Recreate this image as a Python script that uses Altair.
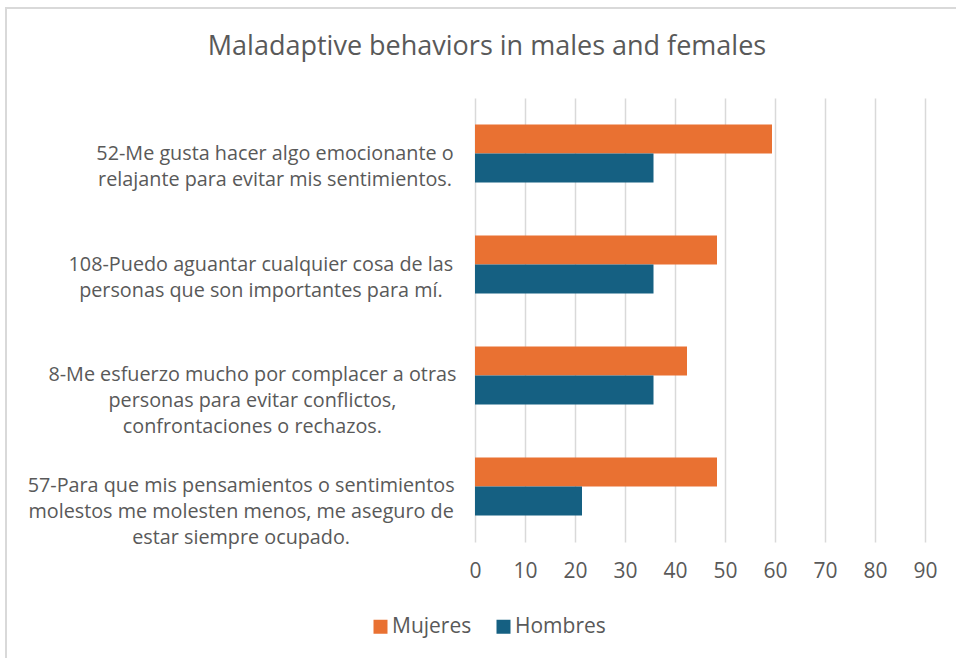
import altair as alt
import pandas as pd

# ---- data ----
categories = [
    "52-Me gusta hacer algo emocionante o\nrelajante para evitar mis sentimientos.",
    "108-Puedo aguantar cualquier cosa de las\npersonas que son importantes para mí.",
    "8-Me esfuerzo mucho por complacer a otras\npersonas para evitar conflictos,\nconfrontaciones o rechazos.",
    "57-Para que mis pensamientos o sentimientos\nmolestos me molesten menos, me aseguro de\nestar siempre ocupado.",
]
series = ["Mujeres", "Hombres"]
mujeres = [59.4, 48.4, 42.4, 48.4]
hombres = [35.7, 35.7, 35.7, 21.4]
x_ticks = [0, 10, 20, 30, 40, 50, 60, 70, 80, 90]
title_text = "Maladaptive behaviors in males and females"

colors = ["#E97132", "#156082"]
TEXT = "#595959"
GRID = "#D9D9D9"
FONT = "Open Sans"

rows = []
for c, m, h in zip(categories, mujeres, hombres):
    rows.append({"category": c, "sexo": series[0], "value": m})
    rows.append({"category": c, "sexo": series[1], "value": h})
df = pd.DataFrame(rows)


def text_units(line):
    # rough relative width of a line (narrow glyphs count less, wide more)
    narrow = set("ijltfr .,:;'-!|")
    wide = set("mwMW")
    return sum(0.5 if ch in narrow else 1.5 if ch in wide else 1.0 for ch in line)


lab = pd.DataFrame({
    "category": categories,
    "units": [max(text_units(s) for s in c.split("\n")) for c in categories],
})

W, H = 450, 444
PL, PT = 475, 98

yscale = alt.Scale(domain=categories, paddingInner=0.477, paddingOuter=0.239)

bars = alt.Chart(df).mark_bar().encode(
    x=alt.X("value:Q", scale=alt.Scale(domain=[0, 90], nice=False),
            axis=alt.Axis(values=x_ticks, domain=False, ticks=False, labelPadding=18,
                          labelFlush=False,
                          labelFontSize=21, labelColor=TEXT, labelFont=FONT,
                          gridColor=GRID, gridWidth=1.5, title=None)),
    y=alt.Y("category:N", sort=categories, scale=yscale, axis=None),
    yOffset=alt.YOffset("sexo:N", sort=series, scale=alt.Scale(domain=series, paddingInner=0, paddingOuter=0)),
    color=alt.Color("sexo:N", scale=alt.Scale(domain=series, range=colors),
                    legend=alt.Legend(orient="none", legendX=-105, legendY=518,
                                      direction="horizontal", title=None,
                                      symbolType="square", symbolSize=196,
                                      symbolStrokeWidth=0, labelFontSize=21,
                                      labelColor=TEXT, labelFont=FONT,
                                      columnPadding=21, labelOffset=1, padding=0)),
)

labels = alt.Chart(lab).transform_calculate(
    lx="-22 - datum.units * 11.3 / 2"
).mark_text(align="center", baseline="middle", lineBreak="\n", fontSize=19.8,
            lineHeight=26, color=TEXT, font=FONT).encode(
    x=alt.X("lx:Q", scale=None),
    y=alt.Y("category:N", sort=categories, scale=yscale, axis=None),
    text="category:N",
)

title = alt.Chart(pd.DataFrame({"t": [title_text]})).mark_text(
    align="center", baseline="middle", fontSize=27, color=TEXT, font=FONT
).encode(x=alt.value(487 - PL), y=alt.value(47 - PT), text="t:N")

frame = alt.Chart(pd.DataFrame({"k": [0]})).mark_rect(
    fillOpacity=0, stroke=GRID, strokeWidth=2
).encode(
    x=alt.value(6 - PL), x2=alt.value(956 - PL + 20),
    y=alt.value(8 - PT), y2=alt.value(658 - PT + 20),
)

chart = alt.layer(frame, bars, labels, title).properties(
    width=W, height=H,
    autosize=alt.AutoSizeParams(type="none"),
    padding={"left": PL, "top": PT, "right": 956 - PL - W, "bottom": 658 - PT - H},
).configure(background="white").configure_view(strokeWidth=0, stroke="transparent")

chart.save("out.html", embed_options={"renderer": "svg", "actions": False})
